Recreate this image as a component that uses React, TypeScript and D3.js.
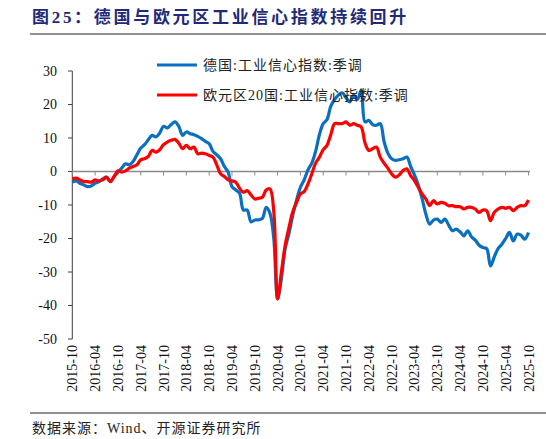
import React from 'react';
import * as d3 from 'd3';

const titleText = '图25：德国与欧元区工业信心指数持续回升';
const sourceText = '数据来源：Wind、开源证券研究所';
const seriesNames = ['德国:工业信心指数:季调', '欧元区20国:工业信心指数:季调'];
const seriesColors = ['#0A6FC0', '#FF0000'];

// monthly categories 2015-10 .. 2025-10
const fmt = d3.timeFormat('%Y-%m');
const months = d3.timeMonth.range(new Date(2015, 9, 1), new Date(2025, 10, 1)).map(fmt);

const xTickLabels = [
  '2015-10', '2016-04', '2016-10', '2017-04', '2017-10', '2018-04', '2018-10',
  '2019-04', '2019-10', '2020-04', '2020-10', '2021-04', '2021-10', '2022-04',
  '2022-10', '2023-04', '2023-10', '2024-04', '2024-10', '2025-04', '2025-10',
];
const yTicks = [30, 20, 10, 0, -10, -20, -30, -40, -50];

const germany = [
  -3.2, -2.8, -3.5, -4.0, -4.5, -4.3, -3.5, -3.0, -2.2, -1.7, -3.0, -1.5,
  -0.2, 1.0, 2.3, 2.0, 3.0, 5.0, 7.0, 8.0, 9.5, 10.8, 10.3, 11.5,
  13.5, 13.0, 14.0, 14.8, 13.5, 10.8, 11.8, 11.3, 11.0, 10.5, 9.8, 9.0,
  8.3, 6.0, 5.0, 3.8, 1.5, -0.2, -4.5, -5.5, -6.5, -11.5, -11.5, -15.0,
  -14.5, -14.4, -14.0, -10.7, -12.5, -20.0, -38.0, -32.0, -23.0, -18.5, -13.0, -8.5,
  -4.7, -2.5, 0.5, 2.5, 6.0, 11.0, 14.3, 15.5, 19.5, 21.5, 22.8, 23.5,
  22.0, 20.8, 22.8, 21.5, 24.3, 14.8, 15.3, 14.0, 13.8, 14.3, 9.0, 5.5,
  3.8, 3.3, 3.5, 3.8, 4.3, 1.5, -1.0, -4.0, -8.0, -12.7, -15.7, -14.5,
  -14.2, -15.2, -14.2, -16.0, -17.7, -17.2, -18.0, -19.2, -17.7, -19.5, -20.5, -22.0,
  -22.7, -23.0, -28.2, -25.5, -23.0, -21.7, -20.0, -18.2, -20.7, -18.7, -19.0, -20.2,
  -18.2,
];

const euroArea = [
  -2.2, -2.0, -2.5, -3.0, -3.0, -3.2, -2.5, -2.8, -2.5, -1.7, -3.0, -1.5,
  0.2, -0.2, 0.2, 1.0, 1.5, 2.0, 3.5, 3.8, 4.5, 6.3, 5.8, 6.5,
  8.0, 8.8, 9.3, 9.6, 8.5, 6.8, 7.8, 6.8, 7.3, 5.3, 5.5, 5.3,
  4.8, 4.3, 2.0, -0.7, -1.5, -2.5, -2.8, -3.2, -5.0, -6.2, -5.7, -7.0,
  -8.2, -8.0, -7.7, -5.5, -5.2, -12.0, -38.0, -30.0, -22.0, -16.7, -12.0, -9.2,
  -6.7, -6.0, -3.7, -0.7, 2.5, 4.3, 6.5, 7.8, 11.0, 14.3, 14.3, 14.3,
  14.8, 13.8, 14.3, 13.8, 13.3, 8.5, 6.3, 6.8, 7.3, 4.3, 2.5, 1.0,
  -0.7, -1.7, -1.0, 0.3, 0.8, -1.2, -2.7, -4.7, -6.7, -8.2, -10.2, -8.7,
  -9.7, -9.2, -9.5, -10.2, -10.2, -10.5, -10.5, -11.2, -10.7, -10.7, -11.2, -12.2,
  -11.5, -11.7, -14.7, -12.2, -11.2, -10.7, -11.0, -10.7, -11.7, -10.7, -10.2, -10.2,
  -8.5,
];

const W = 546;
const H = 439;
const SERIF = "'Liberation Serif', 'Times New Roman', 'Noto Sans CJK SC', serif";

export default function App() {
  const x = d3.scalePoint<string>().domain(months).range([72.3, 528.5]);
  const y = d3.scaleLinear().domain([-50, 30]).range([339, 71]);

  const line = d3
    .line<number>()
    .x((_, i) => x(months[i]) as number)
    .y((d) => y(d))
    .curve(d3.curveCatmullRom.alpha(0.5));

  const series = [germany, euroArea];

  return (
    <svg
      width={W}
      height={H}
      style={{ position: 'absolute', left: 0, top: 0, background: '#fff', fontFamily: SERIF }}
    >
      <rect width={W} height={H} fill="#fff" />
      {/* title */}
      <text
        x={32}
        y={23}
        fontSize={17}
        fontWeight="bold"
        fill="#1F2A78"
        letterSpacing={2.7}
        style={{ fontFamily: SERIF }}
      >
        {titleText}
      </text>
      <line x1={30} x2={546} y1={34} y2={34} stroke="#6b6b6b" strokeWidth={1.5} />

      {/* y axis */}
      <line x1={72.3} x2={72.3} y1={y(30)} y2={y(-50)} stroke="#404040" strokeWidth={1} />
      {yTicks.map((t) => (
        <g key={t}>
          <line x1={68} x2={72.3} y1={y(t)} y2={y(t)} stroke="#404040" />
          <text x={57} y={y(t)} dy="0.35em" textAnchor="end" fontSize={14} fill="#111" style={{ fontFamily: SERIF }}>
            {t}
          </text>
        </g>
      ))}

      {/* zero line with category ticks */}
      <line x1={72.3} x2={530} y1={y(0)} y2={y(0)} stroke="#8a8a8a" strokeWidth={1.5} />
      {xTickLabels.map((m) => (
        <line key={m} x1={x(m)} x2={x(m)} y1={y(0)} y2={y(0) + 4} stroke="#8a8a8a" strokeWidth={1} />
      ))}

      {/* x labels */}
      {xTickLabels.map((m) => (
        <text
          key={m}
          transform={`translate(${(x(m) as number) + 5},345) rotate(-90)`}
          textAnchor="end"
          fontSize={14}
          fill="#111"
          style={{ fontFamily: SERIF }}
        >
          {m}
        </text>
      ))}

      {/* series */}
      {series.map((s, k) => (
        <path
          key={k}
          d={line(s) || ''}
          fill="none"
          stroke={seriesColors[k]}
          strokeWidth={3.2}
          strokeLinejoin="round"
        />
      ))}

      {/* legend */}
      {seriesNames.map((n, k) => (
        <g key={n} transform={`translate(157,${65 + k * 30})`}>
          <line x1={0} x2={40} y1={0} y2={0} stroke={seriesColors[k]} strokeWidth={3.2} />
          <text x={46} y={0} dy="0.35em" fontSize={14} fill="#222" letterSpacing={1} style={{ fontFamily: SERIF }}>
            {n}
          </text>
        </g>
      ))}

      {/* footer */}
      <line x1={30} x2={546} y1={413} y2={413} stroke="#6b6b6b" strokeWidth={1.5} />
      <text x={32} y={433} fontSize={14} fill="#222" letterSpacing={1} style={{ fontFamily: SERIF }}>
        {sourceText}
      </text>
    </svg>
  );
}
